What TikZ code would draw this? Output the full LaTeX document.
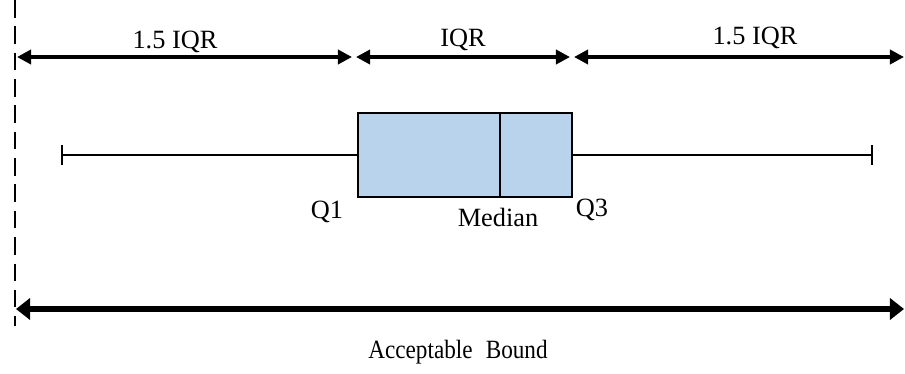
\documentclass[tikz,border=0pt]{standalone}
\usepackage{fontspec}
\setmainfont{Liberation Serif}
\newfontfamily\narrowserif[FakeStretch=0.88]{Liberation Serif}
\usetikzlibrary{arrows.meta}

\definecolor{boxblue}{HTML}{B9D3EC}

\tikzset{
  lbl/.style={font=\fontsize{15}{18}\selectfont, inner sep=0pt},
  span/.style={line width=2pt, {Triangle[length=8pt,width=8pt]}-{Triangle[length=8pt,width=8pt]}},
  bound/.style={line width=3.8pt, {Triangle[length=8pt,width=12pt]}-{Triangle[length=8pt,width=12pt]}},
  whisk/.style={line width=1.1pt}
}

\begin{document}
\begin{tikzpicture}[x=0.02cm, y=-0.02cm]
\useasboundingbox (0,0) rectangle (905,373);

% limit line on the left
\draw[line width=1.5pt, dash pattern=on 10pt off 5pt] (15,0) -- (15,326);

% ranges along the top
\coordinate (l0) at (17,57);
\coordinate (l1) at (352,57);
\coordinate (m0) at (356,57);
\coordinate (m1) at (570,57);
\coordinate (r0) at (574,57);
\coordinate (r1) at (904,57);
\draw[span] (l0) -- (l1);
\draw[span] (m0) -- (m1);
\draw[span] (r0) -- (r1);
\node[lbl] (lowtxt) at (175,42) {1.5 IQR};
\node[lbl] (iqrtxt) at (463,40) {IQR};
\node[lbl] (uptxt) at (755,38) {1.5 IQR};

% whiskers
\coordinate (wmin) at (62,155);
\coordinate (wmax) at (872,155);
\draw[whisk] (wmin) -- (wmax);
\draw[whisk] (62,145) -- (62,165);
\draw[whisk] (872,145) -- (872,165);

% the box
\draw[whisk, fill=boxblue] (358,113) rectangle (572,197);
\draw[whisk] (500,113) -- (500,197);
\node[lbl] (q1) at (327,212) {Q1};
\node[lbl] (med) at (498,217) {Median};
\node[lbl] (q3) at (592,210) {Q3};

% acceptable bound
\coordinate (b0) at (16,309);
\coordinate (b1) at (904,309);
\draw[bound] (b0) -- (b1);
\node[lbl, font=\fontsize{15}{18}\narrowserif] (acc) at (458,352) {Acceptable\hspace{0.5em}Bound};
\end{tikzpicture}
\end{document}
